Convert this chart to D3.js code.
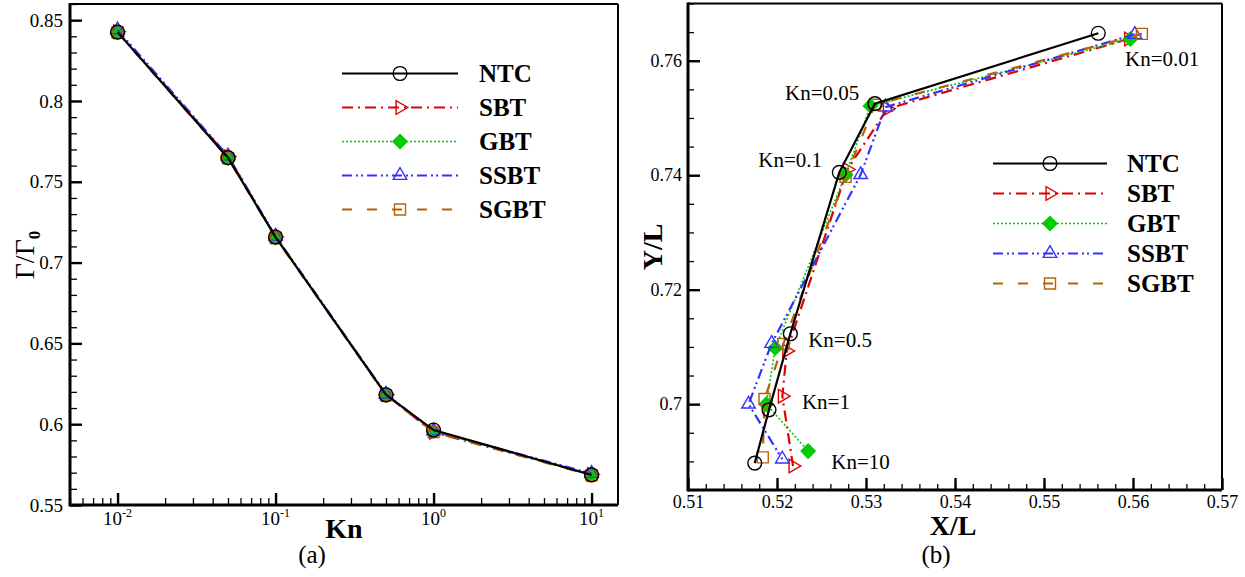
<!DOCTYPE html>
<html>
<head>
<meta charset="utf-8">
<script src="https://cdn.jsdelivr.net/npm/d3@7"></script>
<style>
  body { margin: 0; background: #fff; }
  svg text { font-family: "Liberation Serif", "Tinos", "Times New Roman", "DejaVu Serif", serif !important; fill: #000; }
</style>
</head>
<body>
<svg id="fig" width="1245" height="577" font-family="Liberation Serif, serif"></svg>
<script>
// ---- data ----
const seriesNames = ["NTC", "SBT", "GBT", "SSBT", "SGBT"];
const knValues = [0.01, 0.05, 0.1, 0.5, 1, 10];

// panel (a): circulation ratio vs Kn
const gammaNTC  = [0.8426, 0.7649, 0.7158, 0.6182, 0.5964, 0.5686];
const gammaSBT  = [0.8429, 0.7656, 0.7159, 0.6183, 0.5950, 0.5689];
const gammaGBT  = [0.8425, 0.7647, 0.7155, 0.6180, 0.5956, 0.5687];
const gammaSSBT = [0.8440, 0.7660, 0.7163, 0.6186, 0.5958, 0.5695];
const gammaSGBT = [0.8424, 0.7646, 0.7154, 0.6179, 0.5951, 0.5684];

// panel (b): vortex centre position for Kn = 0.01 ... 10
const xNTC  = [0.5561, 0.5310, 0.5270, 0.5215, 0.5191, 0.5175];
const yNTC  = [0.7648, 0.7525, 0.7405, 0.7123, 0.6990, 0.6897];
const xSBT  = [0.5595, 0.5324, 0.5279, 0.5211, 0.5206, 0.5218];
const ySBT  = [0.7638, 0.7516, 0.7410, 0.7093, 0.7014, 0.6892];
const xGBT  = [0.5597, 0.5305, 0.5277, 0.5198, 0.5188, 0.5235];
const yGBT  = [0.7638, 0.7521, 0.7401, 0.7098, 0.7000, 0.6918];
const xSSBT = [0.5602, 0.5322, 0.5294, 0.5194, 0.5168, 0.5206];
const ySSBT = [0.7646, 0.7519, 0.7401, 0.7106, 0.7000, 0.6904];
const xSGBT = [0.5610, 0.5310, 0.5277, 0.5207, 0.5186, 0.5184];
const ySGBT = [0.7647, 0.7523, 0.7397, 0.7105, 0.7009, 0.6907];

const knLabels = ["Kn=0.01", "Kn=0.05", "Kn=0.1", "Kn=0.5", "Kn=1", "Kn=10"];
const yTicksA = [0.55, 0.6, 0.65, 0.7, 0.75, 0.8, 0.85];
const xTicksB = [0.51, 0.52, 0.53, 0.54, 0.55, 0.56, 0.57];
const yTicksB = [0.7, 0.72, 0.74, 0.76];

// ---- styles ----
const FONT = "Liberation Serif, Tinos, Times New Roman, DejaVu Serif, serif";
const styles = {
  NTC:  {color: "#000000", dash: null,              sym: "circle",  fill: false},
  SBT:  {color: "#e00000", dash: "11,5,2,5",        sym: "tri-right", fill: false},
  GBT:  {color: "#00cc00", dash: "2,2",             sym: "diamond", fill: true},
  SSBT: {color: "#3333ff", dash: "10,4,2,3,2,4",    sym: "tri-up",  fill: false},
  SGBT: {color: "#b8600c", dash: "10,15",           sym: "square",  fill: false}
};

const gammaData = {NTC: gammaNTC, SBT: gammaSBT, GBT: gammaGBT, SSBT: gammaSSBT, SGBT: gammaSGBT};
const posData = {
  NTC: [xNTC, yNTC], SBT: [xSBT, ySBT], GBT: [xGBT, yGBT], SSBT: [xSSBT, ySSBT], SGBT: [xSGBT, ySGBT]
};
const drawOrder = ["SBT", "GBT", "SSBT", "SGBT", "NTC"];

const svg = d3.select("#fig");

function txt(x, y, size, s) {
  return svg.append("text").attr("x", x).attr("y", y)
    .attr("font-family", FONT).style("font-size", size + "px").text(s);
}

function marker(g, name, x, y) {
  const st = styles[name];
  let path, rot = 0;
  if (st.sym === "circle") path = d3.symbol(d3.symbolCircle, 150)();
  else if (st.sym === "tri-right") { path = d3.symbol(d3.symbolTriangle, 80)(); rot = 90; }
  else if (st.sym === "tri-up") path = d3.symbol(d3.symbolTriangle, 80)();
  else if (st.sym === "diamond") { path = d3.symbol(d3.symbolSquare, 100)(); rot = 45; }
  else path = d3.symbol(d3.symbolSquare, 121)();
  g.append("path")
    .attr("d", path)
    .attr("transform", "translate(" + x + "," + y + ") rotate(" + rot + ")")
    .attr("fill", st.fill ? st.color : "none")
    .attr("stroke", st.color)
    .attr("stroke-width", 1.4);
}

function drawSeries(g, name, pts) {
  const st = styles[name];
  g.append("path")
    .datum(pts)
    .attr("d", d3.line().x(d => d[0]).y(d => d[1]))
    .attr("fill", "none")
    .attr("stroke", st.color)
    .attr("stroke-width", name === "GBT" ? 1.6 : 2.2)
    .attr("stroke-dasharray", st.dash);
  pts.forEach(p => marker(g, name, p[0], p[1]));
}

function styleAxis(sel, major, size) {
  sel.attr("font-family", FONT);
  sel.select(".domain").remove();
  sel.selectAll("line").attr("stroke", "#000").attr("stroke-width", major ? 2.4 : 1.3);
  if (size) sel.selectAll("text").attr("font-family", FONT).style("font-size", size + "px");
}

function legend(x0, x1, y0, dy, textX) {
  const g = svg.append("g");
  seriesNames.forEach((name, i) => {
    const y = y0 + i * dy;
    const st = styles[name];
    g.append("line").attr("x1", x0).attr("x2", x1).attr("y1", y).attr("y2", y)
      .attr("stroke", st.color).attr("stroke-width", name === "GBT" ? 1.6 : 2.2)
      .attr("stroke-dasharray", st.dash);
    marker(g, name, (x0 + x1) / 2, y);
    txt(textX, y, 25, name).attr("dy", "0.34em").style("font-weight", "bold");
  });
}

function box(x0, x1, y0, y1) {
  svg.append("line").attr("x1", x0).attr("x2", x1).attr("y1", y0).attr("y2", y0).attr("stroke", "#000").attr("stroke-width", 2);
  svg.append("line").attr("x1", x1).attr("x2", x1).attr("y1", y0).attr("y2", y1).attr("stroke", "#000").attr("stroke-width", 2);
  svg.append("line").attr("x1", x0).attr("x2", x1).attr("y1", y1).attr("y2", y1).attr("stroke", "#000").attr("stroke-width", 3);
  svg.append("line").attr("x1", x0).attr("x2", x0).attr("y1", y0 - 1).attr("y2", y1 + 1.5).attr("stroke", "#000").attr("stroke-width", 3);
}

// ================= panel (a) =================
const aL = 70, aR = 618, aT = 4, aB = 505;
const xA = d3.scaleLog().domain([0.005, 14.7]).range([aL, aR]);
const yA = d3.scaleLinear().domain([0.55, 0.86]).range([aB, aT]);

const logMinor = [];
[-3, -2, -1, 0, 1].forEach(e => {
  for (let k = 2; k <= 9; k++) {
    const v = k * Math.pow(10, e);
    if (v >= 0.005 && v <= 14.7) logMinor.push(v);
  }
});
const logMajor = [0.01, 0.1, 1, 10];

svg.append("g").attr("transform", "translate(0," + aB + ")")
  .call(d3.axisBottom(xA).tickValues(logMinor).tickSize(-7).tickFormat(""))
  .call(s => styleAxis(s, false));
svg.append("g").attr("transform", "translate(0," + aB + ")")
  .call(d3.axisBottom(xA).tickValues(logMajor).tickSize(-12).tickFormat(""))
  .call(s => styleAxis(s, true));

logMajor.forEach(v => {
  const t = txt(xA(v), 525, 19, null).attr("text-anchor", "middle");
  t.append("tspan").text("10");
  t.append("tspan").attr("dy", -8).style("font-size", "12px").text(String(Math.round(Math.log10(v))));
});

const yMinorA = d3.range(0.55, 0.8601, 0.01).map(v => +v.toFixed(2));
svg.append("g").attr("transform", "translate(" + aL + ",0)")
  .call(d3.axisLeft(yA).tickValues(yMinorA).tickSize(-7).tickFormat(""))
  .call(s => styleAxis(s, false));
svg.append("g").attr("transform", "translate(" + aL + ",0)")
  .call(d3.axisLeft(yA).tickValues(yTicksA).tickSize(-12).tickPadding(7).tickFormat(d => String(+d.toFixed(2))))
  .call(s => styleAxis(s, true, 19));

box(aL, aR, aT, aB);

const gA = svg.append("g");
drawOrder.forEach(name => {
  drawSeries(gA, name, knValues.map((k, i) => [xA(k), yA(gammaData[name][i])]));
});

legend(342, 458, 73.5, 34, 479);

txt(344, 538, 28, "Kn").attr("text-anchor", "middle").style("font-weight", "bold");
txt(312, 563, 25, "(a)").attr("text-anchor", "middle");

const yl = svg.append("text").attr("transform", "translate(34,255) rotate(-90)")
  .attr("text-anchor", "middle").attr("font-family", FONT).style("font-size", "28px");
yl.append("tspan").text("Γ/Γ");
yl.append("tspan").attr("dy", 6).style("font-size", "17px").style("font-weight", "bold").text("0");

// ================= panel (b) =================
const bL = 688, bR = 1222, bT = 3.5, bB = 490;
const xB = d3.scaleLinear().domain([0.51, 0.57]).range([bL, bR]);
const yB = d3.scaleLinear().domain([0.685, 0.77]).range([bB, bT]);

const xMinorB = d3.range(0.51, 0.5701, 0.002).map(v => +v.toFixed(3));
const yMinorB = d3.range(0.685, 0.7701, 0.005).map(v => +v.toFixed(3));

svg.append("g").attr("transform", "translate(0," + bB + ")")
  .call(d3.axisBottom(xB).tickValues(xMinorB).tickSize(-6).tickFormat(""))
  .call(s => styleAxis(s, false));
svg.append("g").attr("transform", "translate(0," + bB + ")")
  .call(d3.axisBottom(xB).tickValues(xTicksB).tickSize(-12).tickPadding(5).tickFormat(d => d.toFixed(2)))
  .call(s => styleAxis(s, true, 18));

svg.append("g").attr("transform", "translate(" + bL + ",0)")
  .call(d3.axisLeft(yB).tickValues(yMinorB).tickSize(-6).tickFormat(""))
  .call(s => styleAxis(s, false));
svg.append("g").attr("transform", "translate(" + bL + ",0)")
  .call(d3.axisLeft(yB).tickValues(yTicksB).tickSize(-12).tickPadding(6).tickFormat(d => String(+d.toFixed(2))))
  .call(s => styleAxis(s, true, 18));

box(bL, bR, bT, bB);

const gB = svg.append("g");
drawOrder.forEach(name => {
  const xs = posData[name][0], ys = posData[name][1];
  drawSeries(gB, name, xs.map((v, i) => [xB(v), yB(ys[i])]));
});

// Kn annotations (left edge / baseline given in data units)
const annotX = [0.5591, 0.5209, 0.5179, 0.5235, 0.5228, 0.5261];
const annotY = [0.7591, 0.7532, 0.7415, 0.7100, 0.6992, 0.6887];
knLabels.forEach((lab, i) => {
  txt(xB(annotX[i]), yB(annotY[i]), 21, lab);
});

legend(993, 1107, 163.5, 30, 1127);

txt(953, 535, 28, "X/L").attr("text-anchor", "middle").style("font-weight", "bold");
txt(936, 563, 25, "(b)").attr("text-anchor", "middle");
svg.append("text").attr("transform", "translate(662,247) rotate(-90)")
  .attr("text-anchor", "middle").attr("font-family", FONT)
  .style("font-size", "28px").style("font-weight", "bold").text("Y/L");
</script>
</body>
</html>
